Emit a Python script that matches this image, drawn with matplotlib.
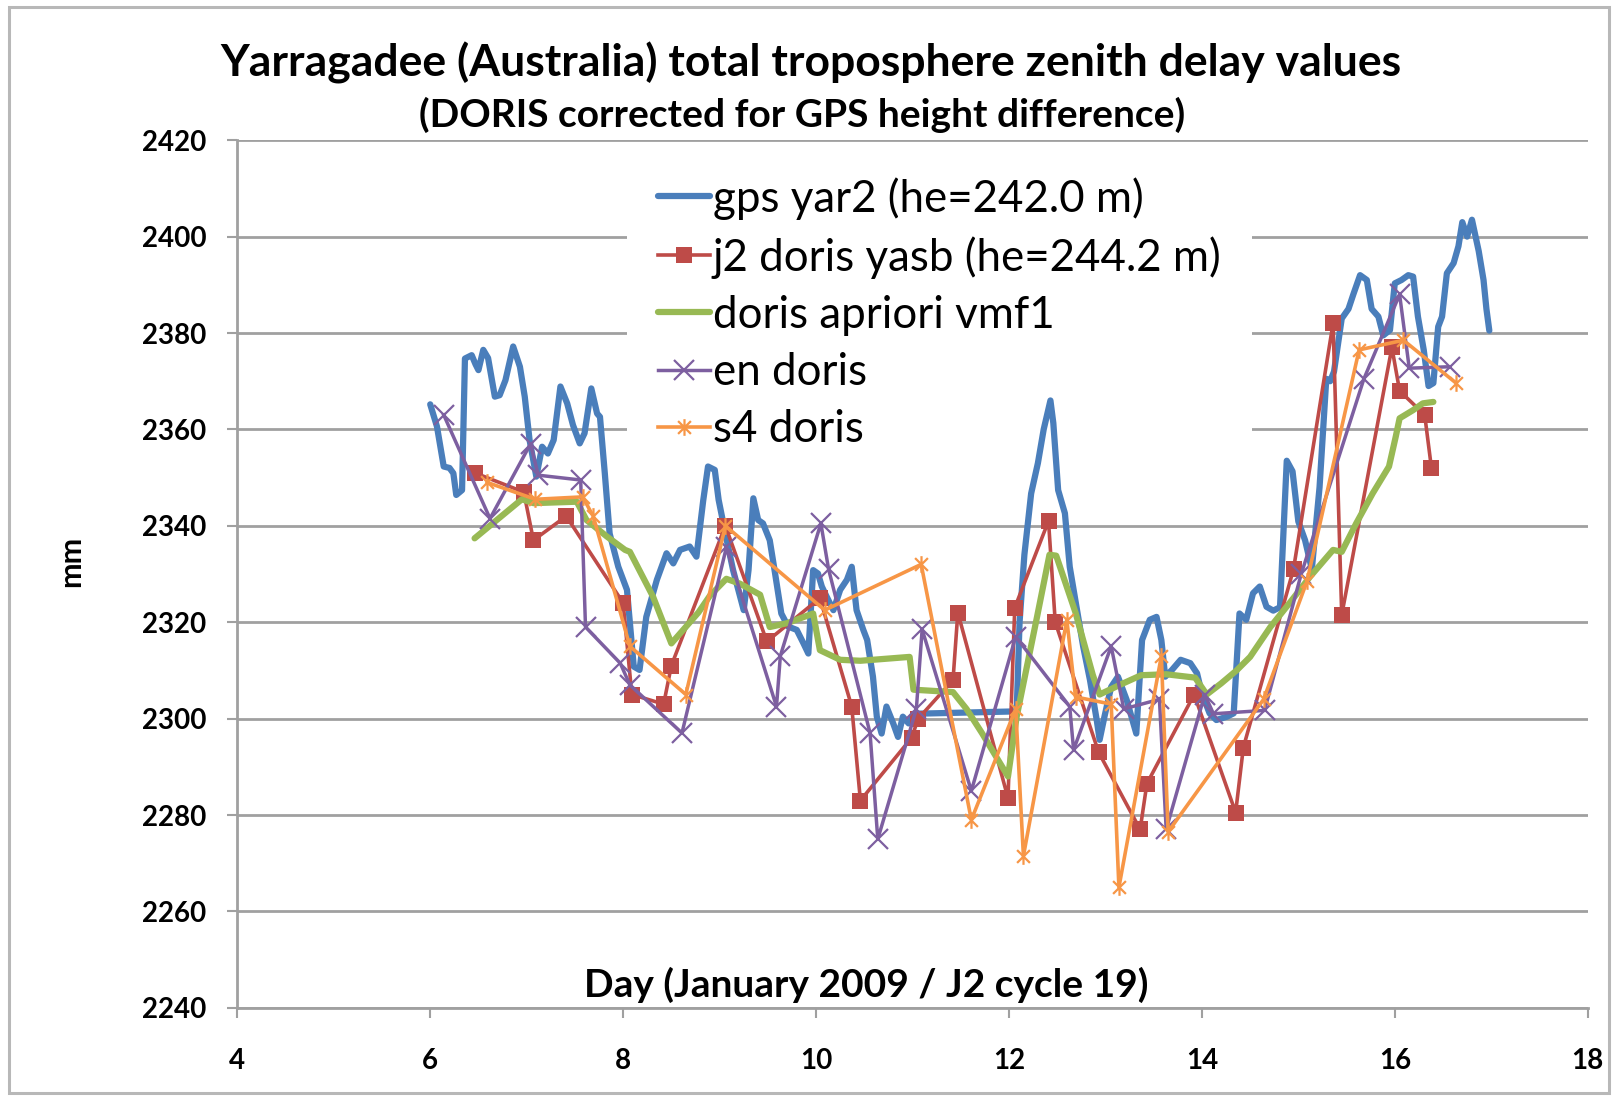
import numpy as np
import matplotlib
matplotlib.use('Agg')
from matplotlib import pyplot as plt
from matplotlib.path import Path
from matplotlib.patches import Rectangle

plt.rcParams['font.family'] = ['Lato', 'DejaVu Sans']

#------------------------------------------------------------------------------
#	Data
#------------------------------------------------------------------------------
gps_day = [6.00, 6.07, 6.14, 6.20, 6.24, 6.27, 6.33, 6.36, 6.43, 6.47, 6.50, 6.55,
	6.60, 6.67, 6.72, 6.78, 6.86, 6.93, 6.98, 7.03, 7.10, 7.16, 7.22, 7.28,
	7.35, 7.42, 7.48, 7.55, 7.60, 7.67, 7.73, 7.76, 7.81, 7.86, 7.95, 8.04,
	8.11, 8.17, 8.24, 8.35, 8.45, 8.52, 8.59, 8.69, 8.76, 8.83, 8.88, 8.95,
	8.99, 9.06, 9.14, 9.25, 9.30, 9.35, 9.40, 9.45, 9.52, 9.57, 9.64, 9.71,
	9.80, 9.87, 9.92, 9.97, 10.02, 10.06, 10.11, 10.18, 10.25, 10.32, 10.37, 10.42,
	10.49, 10.53, 10.59, 10.63, 10.68, 10.73, 10.80, 10.85, 10.90, 10.96, 11.01, 12.08,
	12.11, 12.16, 12.23, 12.30, 12.36, 12.43, 12.46, 12.51, 12.58, 12.63, 12.70, 12.77,
	12.84, 12.91, 12.94, 12.99, 13.06, 13.13, 13.22, 13.32, 13.38, 13.46, 13.53, 13.58,
	13.62, 13.69, 13.78, 13.88, 13.95, 14.00, 14.08, 14.15, 14.26, 14.33, 14.39, 14.46,
	14.53, 14.60, 14.67, 14.74, 14.81, 14.88, 14.94, 15.00, 15.07, 15.14, 15.22, 15.29,
	15.33, 15.37, 15.45, 15.52, 15.57, 15.64, 15.71, 15.76, 15.83, 15.88, 15.95, 16.00,
	16.07, 16.14, 16.19, 16.24, 16.30, 16.35, 16.40, 16.45, 16.49, 16.54, 16.61, 16.66,
	16.70, 16.75, 16.80, 16.87, 16.92, 16.95, 16.98]
gps_ztd = [2365.2, 2360.6, 2352.3, 2352.0, 2350.9, 2346.4, 2347.4, 2374.7, 2375.4, 2373.5, 2372.3, 2376.5,
	2374.8, 2366.8, 2367.1, 2370.2, 2377.2, 2373.0, 2366.8, 2357.8, 2350.2, 2356.4, 2355.0, 2357.8,
	2368.9, 2365.4, 2360.9, 2357.1, 2359.2, 2368.5, 2363.3, 2362.6, 2350.9, 2338.4, 2331.5, 2326.7,
	2310.8, 2310.1, 2321.1, 2328.8, 2334.3, 2332.2, 2335.0, 2335.7, 2333.6, 2345.2, 2352.3, 2351.6,
	2345.4, 2338.4, 2330.8, 2322.5, 2330.8, 2345.7, 2341.2, 2340.5, 2337.0, 2330.8, 2321.8, 2319.1,
	2318.4, 2315.6, 2313.5, 2330.8, 2330.1, 2327.4, 2325.3, 2322.5, 2326.7, 2328.8, 2331.5, 2322.5,
	2318.4, 2316.3, 2308.7, 2300.4, 2296.9, 2302.5, 2299.0, 2296.2, 2300.4, 2299.0, 2301.0, 2301.5,
	2320.0, 2334.0, 2346.7, 2353.0, 2360.0, 2366.0, 2361.3, 2347.4, 2342.6, 2331.5, 2323.2, 2314.9,
	2308.0, 2299.7, 2295.6, 2300.4, 2306.6, 2308.7, 2303.9, 2296.9, 2316.3, 2320.5, 2321.1, 2316.3,
	2308.7, 2310.1, 2312.2, 2311.5, 2309.4, 2305.2, 2301.1, 2299.7, 2300.4, 2301.1, 2321.8, 2320.5,
	2326.0, 2327.4, 2323.2, 2322.4, 2323.1, 2353.5, 2351.3, 2340.9, 2337.0, 2331.0, 2348.0, 2370.5,
	2370.0, 2372.0, 2383.0, 2385.0, 2388.0, 2392.0, 2391.0, 2385.0, 2383.4, 2379.5, 2380.6, 2390.3,
	2391.0, 2392.0, 2391.7, 2383.4, 2376.5, 2369.0, 2369.6, 2381.3, 2383.4, 2392.4, 2394.5, 2398.0,
	2403.0, 2400.0, 2403.5, 2397.0, 2391.0, 2385.0, 2380.5]

j2_day = [6.46, 6.97, 7.07, 7.41, 8.00, 8.09, 8.42, 8.50, 9.06, 9.49, 10.04, 10.37,
	10.46, 10.99, 11.06, 11.42, 11.47, 11.99, 12.06, 12.41, 12.48, 12.93, 13.36, 13.43,
	13.92, 14.35, 14.43, 14.95, 15.36, 15.45, 15.97, 16.05, 16.31, 16.38]
j2_ztd = [2351.0, 2347.0, 2337.0, 2342.0, 2324.0, 2305.0, 2303.0, 2311.0, 2340.0, 2316.0, 2325.0, 2302.5,
	2283.0, 2296.0, 2300.0, 2308.0, 2322.0, 2283.5, 2323.0, 2341.0, 2320.0, 2293.0, 2277.0, 2286.5,
	2305.0, 2280.5, 2294.0, 2331.0, 2382.0, 2321.5, 2377.0, 2368.0, 2363.0, 2352.0]

vmf1_day = [6.46, 6.69, 6.95, 7.07, 7.52, 7.62, 7.83, 8.02, 8.07, 8.31, 8.50, 8.78,
	8.90, 9.07, 9.21, 9.42, 9.52, 9.70, 9.97, 10.04, 10.25, 10.46, 10.97, 11.01,
	11.42, 11.56, 11.72, 11.99, 12.08, 12.29, 12.42, 12.49, 12.69, 12.87, 12.94, 13.15,
	13.37, 13.63, 13.93, 14.05, 14.20, 14.36, 14.50, 14.71, 14.91, 15.12, 15.36, 15.45,
	15.60, 15.77, 15.94, 16.01, 16.05, 16.19, 16.29, 16.40]
vmf1_ztd = [2337.4, 2341.2, 2345.5, 2344.7, 2345.0, 2341.2, 2337.8, 2335.0, 2334.6, 2325.3, 2315.6, 2322.0,
	2325.5, 2329.0, 2328.0, 2325.7, 2319.0, 2319.8, 2321.8, 2314.2, 2312.2, 2312.0, 2312.8, 2306.0,
	2305.5, 2302.0, 2297.0, 2288.0, 2300.4, 2321.0, 2334.0, 2333.8, 2322.0, 2309.0, 2305.0, 2307.0,
	2309.0, 2309.2, 2308.5, 2305.0, 2307.3, 2310.0, 2312.8, 2319.0, 2324.0, 2329.4, 2335.0, 2334.6,
	2340.5, 2346.7, 2352.3, 2358.5, 2362.3, 2364.0, 2365.4, 2365.7]

en_day = [6.14, 6.62, 7.04, 7.12, 7.56, 7.61, 7.97, 8.07, 8.61, 9.07, 9.59, 9.63,
	10.05, 10.13, 10.56, 10.64, 11.04, 11.10, 11.61, 12.07, 12.63, 12.67, 13.06, 13.19,
	13.56, 13.63, 14.03, 14.12, 14.65, 15.03, 15.68, 16.05, 16.15, 16.57]
en_ztd = [2363.0, 2341.5, 2357.0, 2350.5, 2349.5, 2319.0, 2311.5, 2307.0, 2297.0, 2335.5, 2302.5, 2313.0,
	2340.5, 2331.0, 2297.0, 2275.0, 2302.0, 2318.5, 2285.0, 2317.0, 2302.5, 2293.5, 2315.0, 2302.0,
	2304.0, 2277.0, 2305.0, 2301.0, 2301.7, 2330.0, 2370.5, 2388.0, 2372.7, 2373.0]

s4_day = [6.59, 7.09, 7.58, 7.69, 8.07, 8.65, 9.06, 10.09, 11.09, 11.61, 12.07, 12.15,
	12.60, 12.69, 13.06, 13.14, 13.58, 13.65, 14.64, 15.09, 15.63, 16.09, 16.63]
s4_ztd = [2349.0, 2345.5, 2346.0, 2342.0, 2315.0, 2305.0, 2340.0, 2322.5, 2332.0, 2279.0, 2302.0, 2271.5,
	2320.5, 2304.5, 2303.0, 2265.0, 2313.0, 2276.5, 2304.0, 2328.5, 2376.5, 2378.5, 2369.7]

labels = ['gps yar2 (he=242.0 m)', 'j2 doris yasb (he=244.2 m)', 'doris apriori vmf1',
	'en doris', 's4 doris']
x_ticks = [4, 6, 8, 10, 12, 14, 16, 18]
y_ticks = [2240, 2260, 2280, 2300, 2320, 2340, 2360, 2380, 2400, 2420]

#------------------------------------------------------------------------------
#	Figure
#------------------------------------------------------------------------------
W, H = 1613, 1098
fig = plt.figure(figsize=(W / 100, H / 100), dpi=100)
ax = fig.add_axes([237.3 / W, 1 - 1007.8 / H, 1350.4 / W, 867.6 / H])

# Excel style "asterisk" marker: x with a vertical bar
star = Path([(-1, -1), (1, 1), (-1, 1), (1, -1), (0, -1.3), (0, 1.3)],
	[Path.MOVETO, Path.LINETO, Path.MOVETO, Path.LINETO, Path.MOVETO, Path.LINETO])

ax.plot(gps_day, gps_ztd, color='#4a7ebb', lw=4.5, solid_joinstyle='round',
	solid_capstyle='round', label=labels[0], zorder=3)
ax.plot(j2_day, j2_ztd, color='#be4b48', lw=2.6, marker='s', ms=12, mew=0,
	label=labels[1], zorder=4)
ax.plot(vmf1_day, vmf1_ztd, color='#98b954', lw=4.5, solid_joinstyle='round',
	solid_capstyle='round', label=labels[2], zorder=5)
ax.plot(en_day, en_ztd, color='#7d5fa0', lw=2.5, marker='x', ms=15, mew=1.6,
	label=labels[3], zorder=6)
ax.plot(s4_day, s4_ztd, color='#f79646', lw=2.6, marker=star, ms=12, mew=1.6,
	mfc='none', label=labels[4], zorder=7)

ax.set_xlim(4, 18)
ax.set_ylim(2240, 2420)
ax.set_xticks(x_ticks)
ax.set_yticks(y_ticks)
ax.tick_params(axis='both', labelsize=20, colors='#a0a0a0', labelcolor='black', width=1.5, length=7)
ax.tick_params(axis='x', pad=22)
ax.tick_params(axis='y', pad=15)
for lab in ax.get_xticklabels() + ax.get_yticklabels():
	lab.set_fontweight('bold')

ax.yaxis.grid(True, color='#a0a0a0', lw=2)
ax.set_axisbelow(True)
for side in ['top', 'right']:
	ax.spines[side].set_visible(False)
for side in ['left', 'bottom']:
	ax.spines[side].set_color('#a0a0a0')
	ax.spines[side].set_linewidth(2)

# Titles and axis labels
fig.text(0.503, 0.943, 'Yarragadee (Australia) total troposphere zenith delay values',
	ha='center', va='center', fontsize=32, fontweight='bold')
fig.text(0.497, 0.895, '(DORIS corrected for GPS height difference)',
	ha='center', va='center', fontsize=28, fontweight='bold')
fig.text(0.044, 0.489, 'mm', rotation=90, ha='center', va='center',
	fontsize=22, fontweight='bold')
ax.text(0.466, 0.026, 'Day (January 2009 / J2 cycle 19)', transform=ax.transAxes,
	ha='center', va='center', fontsize=28, fontweight='bold')

# legend box hides the gridlines but sits under the data lines
leg = ax.legend(loc='upper left', bbox_to_anchor=(0.2886, 0.9930), fontsize=31.6,
	frameon=True, fancybox=False, edgecolor='none', facecolor='white', framealpha=1,
	borderaxespad=0, borderpad=0.7, handlelength=1.18, handletextpad=0.07,
	labelspacing=0.37)
leg.set_zorder(2.5)

# light grey chart border
fig.patches.append(Rectangle((9 / W, 5 / H), 1600 / W, 1086 / H, transform=fig.transFigure,
	fill=False, edgecolor='#b8b8b8', lw=2.2))

plt.savefig('out.png', dpi=100)
